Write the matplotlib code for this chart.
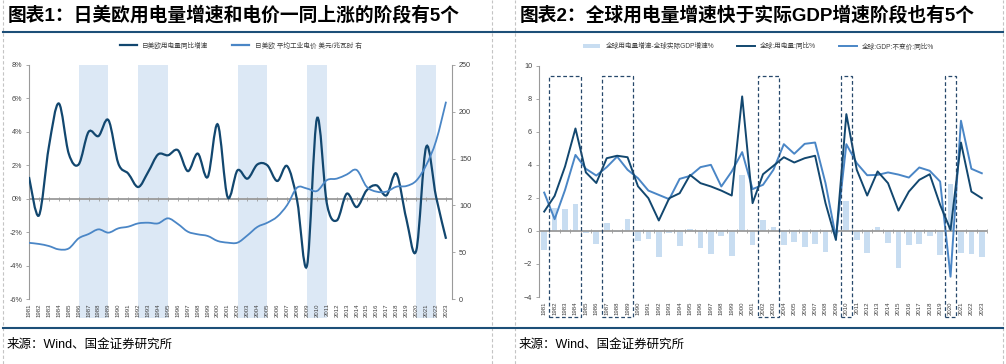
import numpy as np
import matplotlib
matplotlib.use("Agg")
import matplotlib.pyplot as plt
from matplotlib.path import Path
from matplotlib.patches import PathPatch, Rectangle
from matplotlib.lines import Line2D

plt.rcParams['font.family'] = ['Liberation Sans', 'Noto Sans CJK SC', 'DejaVu Sans']

YEARS = list(range(1981, 2024))

# ---- chart 1: Japan/US/EU ----
ELEC_GROWTH_JUE = [1.3, -1.0, 3.1, 5.7, 2.7, 2.05, 4.0, 3.75, 4.7, 2.1,
                   1.5, 0.7, 1.6, 2.65, 2.6, 2.9, 1.65, 2.7, 1.3, 4.45,
                   0.1, 1.7, 1.2, 2.05, 2.0, 1.06, 1.95, -0.1, -4.0, 4.8,
                   -0.3, -1.3, 0.3, -0.5, 0.5, 0.8, 0.2, 1.5, -1.2, -3.1,
                   3.1, 0.1, -2.4]
PRICE_JUE = [60, 58.8, 56.6, 53, 54, 64.8, 69.4, 74.4, 70.9, 75.5,
             77.3, 80.8, 81.5, 80.8, 86.2, 80.1, 71.9, 69.1, 67.3, 62,
             60.2, 60.2, 68, 77, 81.5, 88, 100.4, 119, 118, 115.4,
             127, 128.6, 133, 137.8, 120, 114.7, 114.7, 120, 120.7, 126.4,
             143, 169, 210.8]
SHADE_PERIODS = [(1986, 1989), (1992, 1995), (2002, 2005), (2009, 2011), (2020, 2022)]

# ---- chart 2: world ----
ELEC_GROWTH_WORLD = [1.17, 2.12, 3.9, 6.2, 3.54, 2.9, 4.4, 4.55, 4.46, 2.7,
                     1.98, 0.63, 1.98, 2.28, 3.39, 2.89, 2.69, 2.44, 2.14, 8.14,
                     1.68, 3.43, 3.94, 4.46, 4.14, 4.4, 4.55, 1.68, -0.55, 7.07,
                     3.7, 2.14, 3.6, 2.89, 1.23, 2.38, 3.09, 3.43, 1.58, 0.06,
                     5.35, 2.38, 1.98]
GDP_GROWTH_WORLD = [2.32, 0.71, 2.48, 4.6, 3.76, 3.35, 3.86, 4.5, 3.7, 3.19,
                    2.44, 2.18, 1.92, 3.15, 3.33, 3.86, 4.0, 2.69, 3.6, 4.77,
                    2.53, 2.79, 3.7, 5.25, 4.67, 5.27, 5.35, 2.89, -0.4, 5.25,
                    4.1, 3.37, 3.39, 3.54, 3.41, 3.23, 3.84, 3.64, 2.99, -2.77,
                    6.67, 3.76, 3.49]
GAP_WORLD = [-1.15, 1.4, 1.3, 1.62, -0.1, -0.8, 0.45, -0.05, 0.75, -0.6,
             -0.5, -1.6, -0.1, -0.9, 0.1, -1.05, -1.4, -0.3, -1.5, 3.4,
             -0.85, 0.67, 0.22, -0.85, -0.65, -0.95, -0.81, -1.29, -0.12, 1.84,
             -0.55, -1.31, 0.26, -0.75, -2.26, -0.85, -0.81, -0.28, -1.45, 2.83,
             -1.31, -1.39, -1.6]
BOX_PERIODS = [(1982, 1984), (1987, 1989), (2002, 2003), (2010, 2010), (2020, 2020)]

DARK = "#12476f"
LIGHT = "#4a86c6"
SHADE = "#dce8f5"
BAR = "#c8ddf1"
GREY = "#9a9a9a"
RULE = "#1d4f78"


def smooth_path(x, y):
    """Excel-like smoothed line as a cubic bezier path."""
    pts = np.column_stack([x, y]).astype(float)
    ext = np.vstack([pts[0], pts, pts[-1]])
    verts = [pts[0]]
    codes = [Path.MOVETO]
    for i in range(len(pts) - 1):
        p0, p1, p2, p3 = ext[i], ext[i + 1], ext[i + 2], ext[i + 3]
        verts += [p1 + (p2 - p0) / 6, p2 - (p3 - p1) / 6, p2]
        codes += [Path.CURVE4] * 3
    return Path(verts, codes)


def style_axis(ax):
    for s in ("top", "right", "bottom"):
        ax.spines[s].set_visible(False)
    ax.spines["left"].set_color(GREY)
    ax.spines["left"].set_linewidth(0.8)
    ax.tick_params(axis="y", length=2, width=0.6, color=GREY,
                   labelsize=5.2, labelcolor="#404040", pad=3)
    ax.tick_params(axis="x", length=0, labelsize=4.3, labelcolor="#404040",
                   pad=3, rotation=90)


fig = plt.figure(figsize=(10.06, 3.64), dpi=100)

# ---------------- chart 1 ----------------
x = np.arange(len(YEARS))
ax1 = fig.add_axes([29 / 1006, 1 - 299 / 364, 423 / 1006, 234 / 364])
ax1.set_xlim(0, 42.6)
ax1.set_ylim(-6, 8)
style_axis(ax1)
ax1.set_yticks(range(-6, 9, 2))
ax1.set_yticklabels([f"{v}%" for v in range(-6, 9, 2)])
ax1.set_xticks(x)
ax1.set_xticklabels([str(y) for y in YEARS])

for a, b in SHADE_PERIODS:
    ax1.axvspan(a - YEARS[0], b - YEARS[0], ymin=-0.082, ymax=1,
                color=SHADE, lw=0, clip_on=False, zorder=0)
ax1.axhline(0, color=GREY, lw=1.3, zorder=1)
ax1.plot(x, np.zeros(len(x)), ls="none", marker="|", ms=3, mew=0.6,
         color=GREY, zorder=1)

ax1b = ax1.twinx()
ax1b.set_ylim(0, 250)
ax1b.set_yticks(range(0, 251, 50))
for s in ("top", "left", "bottom"):
    ax1b.spines[s].set_visible(False)
ax1b.spines["right"].set_color(GREY)
ax1b.spines["right"].set_linewidth(0.8)
ax1b.tick_params(axis="y", length=2, width=0.6, color=GREY,
                 labelsize=5.2, labelcolor="#404040", pad=3)

ax1.add_patch(PathPatch(smooth_path(x, ELEC_GROWTH_JUE), fill=False,
                        edgecolor=DARK, lw=1.6, zorder=3))
ax1b.add_patch(PathPatch(smooth_path(x, PRICE_JUE), fill=False,
                         edgecolor=LIGHT, lw=1.3, zorder=3))

h1 = [Line2D([], [], color=DARK, lw=1.6), Line2D([], [], color=LIGHT, lw=1.6)]
ax1.legend(h1, ["日美欧用电量同比增速", "日美欧 平均工业电价 美元/兆瓦时 右"],
           loc="lower center", bbox_to_anchor=(0.5, 1.04), ncol=2,
           frameon=False, fontsize=4.8, handlelength=2.6, columnspacing=3.5,
           labelcolor="#404040")

# ---------------- chart 2 ----------------
ax2 = fig.add_axes([539 / 1006, 1 - 297 / 364, 448 / 1006, 231.3 / 364])
ax2.set_xlim(-0.5, 42.5)
ax2.set_ylim(-4, 10)
style_axis(ax2)
ax2.set_yticks(range(-4, 11, 2))
ax2.set_xticks(x)
ax2.set_xticklabels([str(y) for y in YEARS])

bars = ax2.bar(x, GAP_WORLD, width=0.55, color=BAR, zorder=1)
ax2.axhline(0, color=GREY, lw=1.3, zorder=2)
ax2.plot(np.arange(len(YEARS) + 1) - 0.5, np.zeros(len(YEARS) + 1), ls="none",
         marker="|", ms=3, mew=0.6, color=GREY, zorder=2)
l_elec, = ax2.plot(x, ELEC_GROWTH_WORLD, color=DARK, lw=1.4, zorder=4)
l_gdp, = ax2.plot(x, GDP_GROWTH_WORLD, color=LIGHT, lw=1.4, zorder=3)

for a, b in BOX_PERIODS:
    x0 = a - YEARS[0] - 0.5
    ax2.add_patch(Rectangle((x0, -5.2), b - a + 1, 9.4 + 5.2, fill=False,
                            edgecolor="#27486b", lw=0.9, ls=(0, (3, 2)),
                            clip_on=False, zorder=5))

ax2.legend([bars, l_elec, l_gdp],
           ["全球用电量增速-全球实际GDP增速%", "全球:用电量:同比%", "全球:GDP:不变价:同比%"],
           loc="lower center", bbox_to_anchor=(0.49, 1.04), ncol=3,
           frameon=False, fontsize=4.8, handlelength=2.6, columnspacing=3.5,
           labelcolor="#404040")

# ---------------- frame, titles, source ----------------
for xf in (3, 492, 515, 1003):
    fig.add_artist(Line2D([xf / 1006] * 2, [0, 1], color="#c4c4c4", lw=0.8,
                          ls=(0, (3, 2)), transform=fig.transFigure))
for yf in (32, 328):
    fig.add_artist(Line2D([3 / 1006, 1003 / 1006], [1 - yf / 364] * 2,
                          color=RULE, lw=1.5, transform=fig.transFigure))

fig.text(8 / 1006, 1 - 15 / 364, "图表1：日美欧用电量增速和电价一同上涨的阶段有5个",
         fontsize=13.5, fontweight="bold", va="center", ha="left", color="black")
fig.text(520 / 1006, 1 - 15 / 364, "图表2：全球用电量增速快于实际GDP增速阶段也有5个",
         fontsize=13.5, fontweight="bold", va="center", ha="left", color="black")
fig.text(7 / 1006, 1 - 345 / 364, "来源：Wind、国金证券研究所",
         fontsize=9, va="center", ha="left", color="black")
fig.text(519 / 1006, 1 - 345 / 364, "来源：Wind、国金证券研究所",
         fontsize=9, va="center", ha="left", color="black")

fig.savefig("out.png", dpi=100)
